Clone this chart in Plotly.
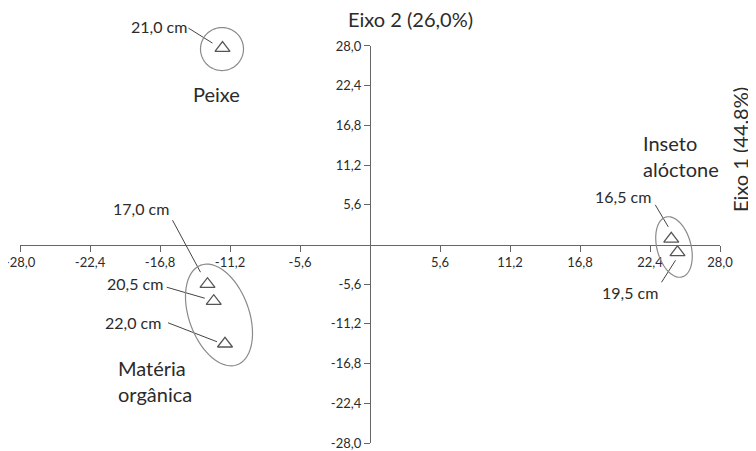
import numpy as np
import plotly.graph_objects as go

# values
eixo1 = [-11.8, -13.0, -12.5, -11.6, 24.1, 24.6]
eixo2 = [27.7, -5.6, -8.0, -14.0, 0.8, -1.1]
tamanhos = ["21,0 cm", "17,0 cm", "20,5 cm", "22,0 cm", "16,5 cm", "19,5 cm"]
grupos = ["Peixe", "Matéria<br>orgânica", "Inseto<br>alóctone"]
tick_vals = [-28.0, -22.4, -16.8, -11.2, -5.6, 5.6, 11.2, 16.8, 22.4, 28.0]
tick_text = ["-28,0", "-22,4", "-16,8", "-11,2", "-5,6", "5,6", "11,2", "16,8", "22,4", "28,0"]

W, H = 756, 451
PAGE = 8                    # body margin of the html page
OX, OY = 370, 244.5         # origin in the picture, pixels
X0PX, Y0PX = OX - PAGE, OY - PAGE   # origin inside the plot div
SX, SY = 12.5, 7.09         # pixels per unit
FONT = "Lato"
TXT = "#2b2b2b"
AX = "#666666"


def dx(p):
    return p / SX


def dy(p):
    return -p / SY


fig = go.Figure()

# points
fig.add_trace(go.Scatter(
    x=eixo1, y=eixo2, mode="markers",
    marker=dict(symbol="triangle-up-open", size=13, color="#555555", line=dict(width=1.3)),
    hoverinfo="skip", showlegend=False))

# dummy trace for the axis subplot
fig.add_trace(go.Scatter(x=[0], y=[0], xaxis="x2", yaxis="y2", mode="markers",
                         marker=dict(opacity=0), hoverinfo="skip", showlegend=False))

# labels: (text offset px, line start px, line end px) relative to the point
offs = [
    ((-64, -22), (-34, -20), (-10, -5)),
    ((-67, -76), (-35, -64), (-7, -12)),
    ((-79, -18), (-47, -14), (-9, -3)),
    ((-92, -21), (-57, -21), (-8, -2)),
    ((-48, -42), (-16, -34), (-3, -12)),
    ((-48, 40), (-16, 30), (-2, 8)),
]
for x, y, t, (to, ls, le) in zip(eixo1, eixo2, tamanhos, offs):
    fig.add_annotation(x=x + dx(to[0]), y=y + dy(to[1]), text=t, showarrow=False,
                       font=dict(family=FONT, size=16, color=TXT))
    fig.add_shape(type="line", x0=x + dx(ls[0]), y0=y + dy(ls[1]),
                  x1=x + dx(le[0]), y1=y + dy(le[1]),
                  line=dict(color="#444444", width=1))


# group ellipses (center in data units, axes in pixels, tilt from vertical)
def ellipse_path(cx, cy, a, b, tilt):
    t = np.linspace(0, 2 * np.pi, 73)
    th = np.radians(tilt)
    u = b * np.cos(t)
    v = a * np.sin(t)
    px = u * np.cos(th) + v * np.sin(th)
    py = -u * np.sin(th) + v * np.cos(th)
    xs = cx + px / SX
    ys = cy - py / SY
    return "M " + " L ".join(f"{xx:.4f},{yy:.4f}" for xx, yy in zip(xs, ys)) + " Z"


elipses = [(-11.84, 27.57, 21.5, 21.5, 0), (-12.08, -9.94, 53, 30, 20), (24.32, -0.35, 31, 17, 15)]
for cx, cy, a, b, tl in elipses:
    fig.add_shape(type="path", path=ellipse_path(cx, cy, a, b, tl),
                  line=dict(color="#8a8a8a", width=1.2))

# group names
fig.add_annotation(x=dx(216 - OX), y=dy(94 - OY), text=grupos[0], showarrow=False,
                   font=dict(family=FONT, size=20, color=TXT))
fig.add_annotation(x=dx(116 - OX), y=dy(381 - OY), text=grupos[1], showarrow=False,
                   xanchor="left", align="left", font=dict(family=FONT, size=20, color=TXT))
fig.add_annotation(x=dx(641 - OX), y=dy(156 - OY), text=grupos[2], showarrow=False,
                   xanchor="left", align="left", font=dict(family=FONT, size=20, color=TXT))

# axis titles
fig.add_annotation(x=(411 - PAGE) / W, y=1 - (19 - PAGE) / H, xref="paper", yref="paper",
                   text="Eixo 2 (26,0%)", showarrow=False, yanchor="middle",
                   font=dict(family=FONT, size=20, color=TXT))
fig.add_annotation(x=(740 - PAGE) / W, y=1 - (150 - PAGE) / H, xref="paper", yref="paper",
                   text="Eixo 1 (44,8%)", showarrow=False, textangle=-90,
                   xanchor="center", yanchor="middle", font=dict(family=FONT, size=20, color=TXT))

tick_style = dict(range=[-28, 28], tickvals=tick_vals, ticktext=tick_text, ticks="outside",
                  ticklen=6, tickwidth=1.2, tickcolor=AX, showline=True, linecolor=AX,
                  linewidth=1.3, showgrid=False, zeroline=False, anchor="free", automargin=False,
                  ticklabeloverflow="allow", tickfont=dict(family=FONT, size=13, color=TXT))

fig.update_layout(
    width=W, height=H, autosize=False,
    margin=dict(l=0, r=0, t=0, b=0, pad=0, autoexpand=False),
    paper_bgcolor="white", plot_bgcolor="rgba(0,0,0,0)",
    xaxis=dict(range=[-X0PX / SX, (W - X0PX) / SX], visible=False, fixedrange=True, automargin=False),
    yaxis=dict(range=[-(H - Y0PX) / SY, Y0PX / SY], visible=False, fixedrange=True, automargin=False),
    xaxis2=dict(domain=[(X0PX - 28 * SX) / W, (X0PX + 28 * SX) / W],
                position=1 - Y0PX / H, side="bottom", **tick_style),
    yaxis2=dict(domain=[1 - (Y0PX + 28 * SY) / H, 1 - (Y0PX - 28 * SY) / H],
                position=X0PX / W, side="left", **tick_style),
)

fig.write_html("out.html")
